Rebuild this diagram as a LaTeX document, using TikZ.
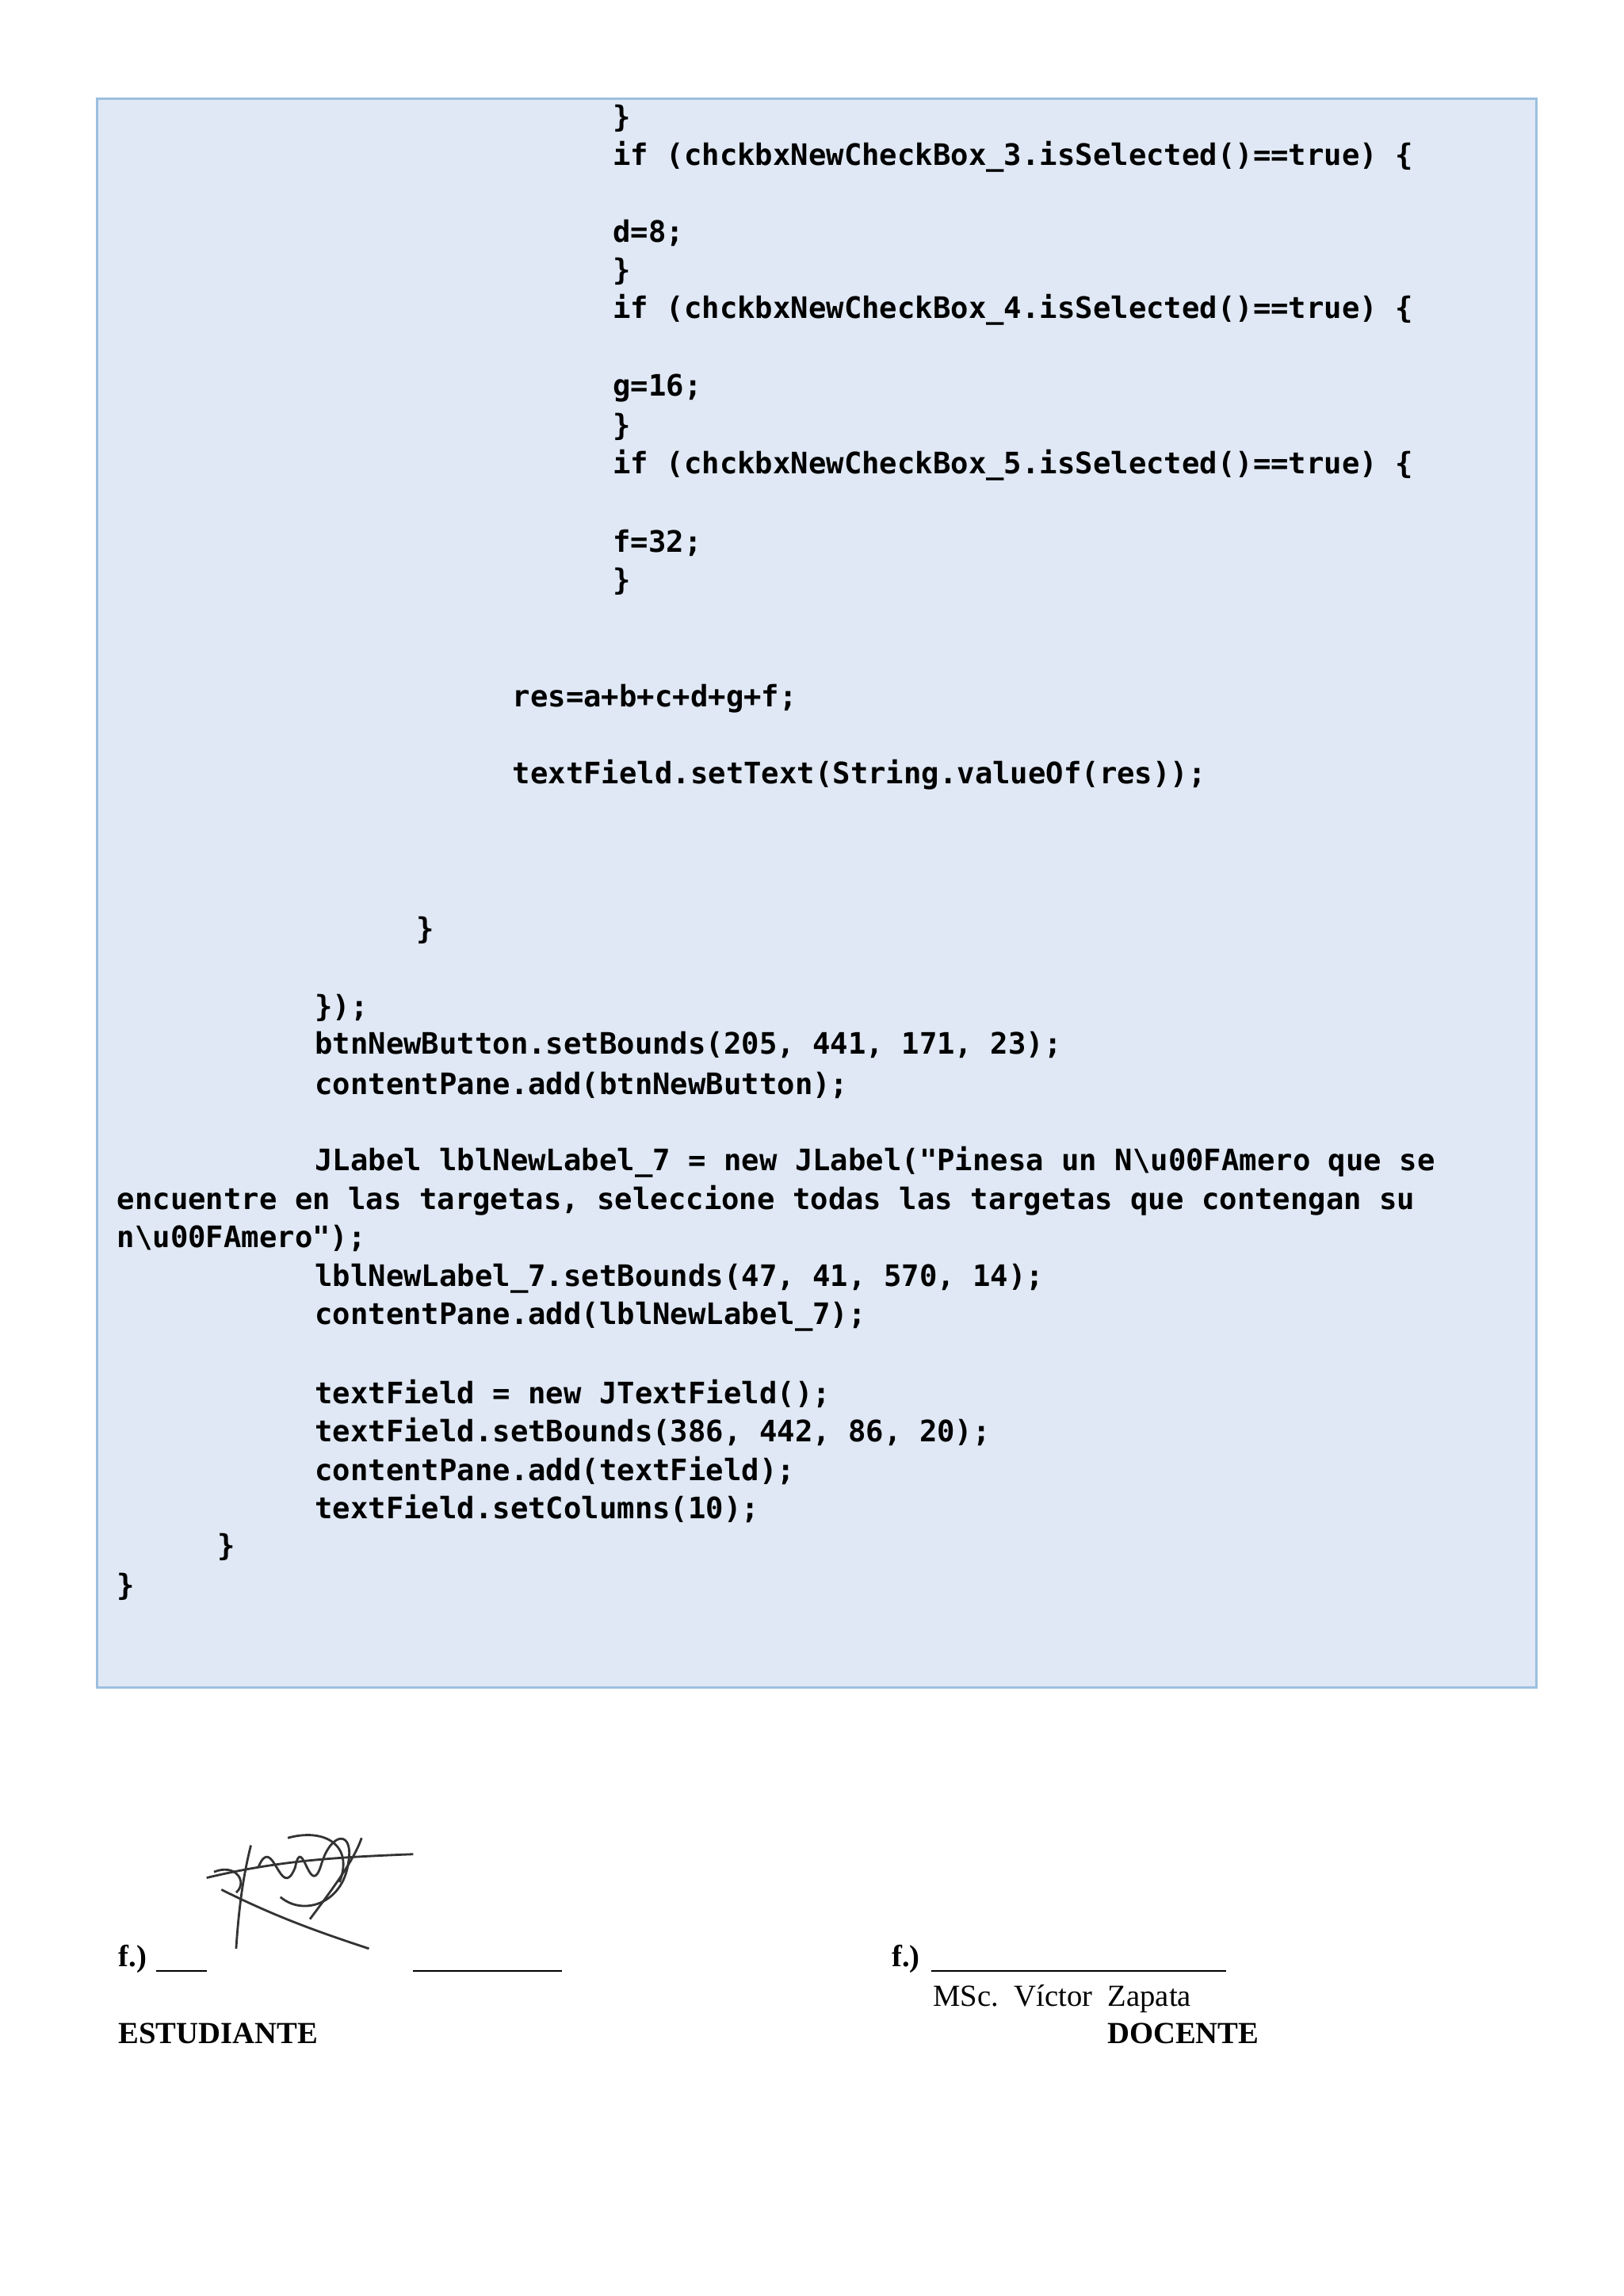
\documentclass[tikz,border=0pt]{standalone}
\usepackage{fontspec}
\setmainfont{Liberation Serif}
\setmonofont{DejaVu Sans Mono}
\definecolor{boxfill}{HTML}{DFE8F4}
\definecolor{boxline}{HTML}{9CBFE0}
\begin{document}
\begin{tikzpicture}[x=0.018618cm,y=-0.018618cm,
  code/.style={anchor=west,inner sep=0pt,font=\fontsize{10.6}{12}\ttfamily\bfseries},
  sig/.style={anchor=base west,inner sep=0pt,font=\fontsize{11}{13}\selectfont\bfseries},
  plain/.style={anchor=base west,inner sep=0pt,font=\fontsize{11}{13}\selectfont}]
\useasboundingbox (0,0) rectangle (1100,1555.3);
\fill[white] (0,0) rectangle (1100,1555.3);
\draw[boxline,fill=boxfill,line width=0.8pt] (66,67) rectangle (1041,1143);
\node[code] (l1) at (415,80) {\}};
\node[code] (l2) at (415,106) {if (chckbxNewCheckBox\_3.isSelected()==true) \{};
\node[code] (l3) at (415,158) {d=8;};
\node[code] (l4) at (415,184) {\}};
\node[code] (l5) at (415,210) {if (chckbxNewCheckBox\_4.isSelected()==true) \{};
\node[code] (l6) at (415,263) {g=16;};
\node[code] (l7) at (415,289) {\}};
\node[code] (l8) at (415,315) {if (chckbxNewCheckBox\_5.isSelected()==true) \{};
\node[code] (l9) at (415,368) {f=32;};
\node[code] (l10) at (415,394) {\}};
\node[code] (l11) at (347,473) {res=a+b+c+d+g+f;};
\node[code] (l12) at (347,525) {textField.setText(String.valueOf(res));};
\node[code] (l13) at (282,630) {\}};
\node[code] (l14) at (213,683) {\});};
\node[code] (l15) at (213,708) {btnNewButton.setBounds(205, 441, 171, 23);};
\node[code] (l16) at (213,735) {contentPane.add(btnNewButton);};
\node[code] (l17) at (213,787) {JLabel lblNewLabel\_7 = new JLabel("Pinesa un N\textbackslash u00FAmero que se};
\node[code] (l18) at (79,813) {encuentre en las targetas, seleccione todas las targetas que contengan su};
\node[code] (l19) at (79,839) {n\textbackslash u00FAmero");};
\node[code] (l20) at (213,866) {lblNewLabel\_7.setBounds(47, 41, 570, 14);};
\node[code] (l21) at (213,892) {contentPane.add(lblNewLabel\_7);};
\node[code] (l22) at (213,944) {textField = new JTextField();};
\node[code] (l23) at (213,970) {textField.setBounds(386, 442, 86, 20);};
\node[code] (l24) at (213,996) {contentPane.add(textField);};
\node[code] (l25) at (213,1022) {textField.setColumns(10);};
\node[code] (l26) at (147,1048) {\}};
\node[code] (l27) at (79,1075) {\}};
% signatures
\node[sig] (f1) at (80,1332) {f.)};
\draw[line width=0.7pt] (106,1335) -- (140,1335);
\draw[line width=0.7pt] (280,1335) -- (381,1335);
\node[sig] (est) at (80,1384) {ESTUDIANTE};
\node[sig] (f2) at (604,1332) {f.)};
\draw[line width=0.7pt] (631,1335) -- (831,1335);
\node[plain] (msc) at (632,1359) {MSc.\ \ Víctor\ \ Zapata};
\node[sig] (doc) at (750,1384) {DOCENTE};
% scribble signature
\begin{scope}[line width=0.8pt,black!80]
\draw (140,1272) .. controls (190,1260) and (230,1258) .. (280,1256);
\draw (160,1320) .. controls (162,1290) and (165,1270) .. (170,1250);
\draw (175,1265) .. controls (185,1240) and (190,1290) .. (200,1265) .. controls (205,1240) and (210,1290) .. (218,1262);
\draw (218,1262) .. controls (225,1240) and (240,1240) .. (236,1262) .. controls (232,1290) and (205,1298) .. (190,1285);
\draw (195,1245) .. controls (220,1238) and (240,1250) .. (230,1275);
\draw (150,1280) .. controls (190,1300) and (220,1310) .. (250,1320);
\draw (210,1300) .. controls (225,1280) and (240,1260) .. (245,1245);
\draw (145,1268) .. controls (160,1262) and (168,1275) .. (160,1282);
\end{scope}
\end{tikzpicture}
\end{document}
